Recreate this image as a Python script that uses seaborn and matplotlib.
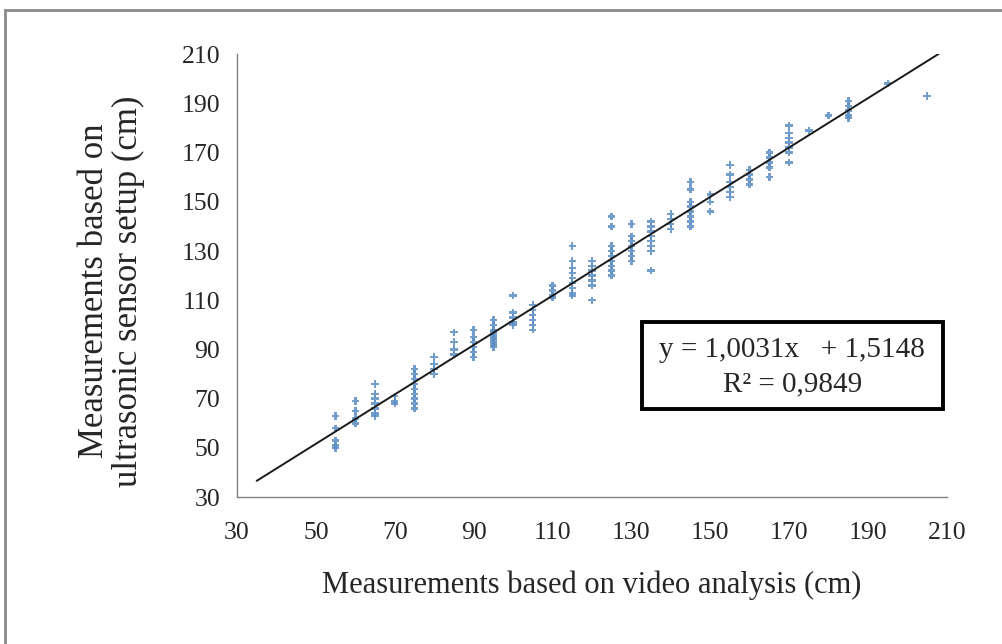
import numpy as np
import pandas as pd
import matplotlib
matplotlib.use("Agg")
import matplotlib.pyplot as plt
from matplotlib.patches import Rectangle
import seaborn as sns

# ---- data ----
x_video = [55]*5 + [60]*4 + [65]*7 + [70]*3 + [75]*9 + [80]*4 + [85]*4 + [90]*6 + \
          [95]*10 + [100]*5 + [105]*6 + [110]*4 + [115]*9 + [120]*7 + [125]*9 + \
          [130]*7 + [135]*8 + [140]*4 + [145]*8 + [150]*3 + [155]*6 + [160]*4 + \
          [165]*5 + [170]*7 + [175]*1 + [180]*1 + [185]*5 + [195]*1 + [205]*1
y_ultra = [63, 58, 53, 51, 50,
           69, 65, 62, 60,
           76, 72, 70, 68, 66, 64, 63,
           71, 69, 68,
           82, 80, 78, 76, 74, 72, 70, 68, 66,
           87, 84, 82, 80,
           97, 93, 90, 88,
           98, 95, 93, 91, 89, 87,
           102, 100, 98, 97, 96, 95, 94, 93, 92, 91,
           112, 105, 103, 101, 100,
           108, 106, 104, 102, 100, 98,
           116, 114, 112, 111,
           132, 126, 123, 121, 119, 117, 115, 113, 112,
           126, 124, 122, 120, 118, 116, 110,
           144, 140, 132, 130, 128, 126, 124, 122, 120,
           141, 136, 134, 132, 130, 128, 126,
           142, 140, 138, 136, 134, 132, 130, 122,
           145, 143, 141, 139,
           158, 155, 150, 148, 146, 144, 142, 140,
           153, 150, 146,
           165, 161, 158, 156, 154, 152,
           163, 161, 159, 157,
           170, 168, 166, 164, 160,
           181, 178, 176, 174, 172, 170, 166,
           179,
           185,
           191, 189, 187, 185, 184,
           198,
           193]
trend_slope = 1.0031
trend_intercept = 1.5148
trend_x_range = [35, 208]
ticks = [30, 50, 70, 90, 110, 130, 150, 170, 190, 210]
equation_text = "y = 1,0031x   + 1,5148\nR² = 0,9849"
x_label = "Measurements based on video analysis (cm)"
y_label = "Measurements based on\nultrasonic sensor setup (cm)"

df = pd.DataFrame({"video": x_video, "ultra": y_ultra})
tx = np.array(trend_x_range, dtype=float)
trend = pd.DataFrame({"video": tx, "ultra": trend_slope * tx + trend_intercept})

sns.set_style("white")
plt.rcParams["font.family"] = ["Liberation Serif", "DejaVu Serif"]

fig = plt.figure(figsize=(10.02, 6.44), dpi=100)
ax = fig.add_axes([0.2365, 0.228, 0.945 - 0.2365, 0.916 - 0.228])

sns.scatterplot(data=df, x="video", y="ultra", ax=ax, marker="P", s=28,
                color="#5b8dc4", edgecolor="none", alpha=0.85, zorder=2)
sns.lineplot(data=trend, x="video", y="ultra", ax=ax, color="#1a1a1a",
             linewidth=1.4, zorder=3)

ax.set_xlim(30, 210)
ax.set_ylim(30, 210)
ax.set_xticks(ticks)
ax.set_yticks(ticks)
ax.tick_params(axis="both", direction="out", length=6, width=1,
               color="#808080", labelsize=18.5)
ax.tick_params(axis="x", pad=12)
ax.tick_params(axis="y", pad=6)
for side in ["top", "right"]:
    ax.spines[side].set_visible(False)
for side in ["left", "bottom"]:
    ax.spines[side].set_color("#808080")
    ax.spines[side].set_linewidth(1)

ax.set_xlabel(x_label, fontsize=22, labelpad=19)
ax.set_ylabel(y_label, fontsize=25, linespacing=1.05)
ax.yaxis.set_label_coords(-0.129, 0.465)

# equation box
ax.add_patch(Rectangle((0.570, 0.199), 0.994 - 0.570, 0.395 - 0.199,
                       transform=ax.transAxes, facecolor="white",
                       edgecolor="black", linewidth=2.8, zorder=4,
                       clip_on=False))
ax.text(0.782, 0.294, equation_text, transform=ax.transAxes, ha="center",
        va="center", fontsize=21, linespacing=1.42, zorder=5)

fig.patches.append(Rectangle((0.005, -0.1), 1.2, 0.1 + 0.984,
                             transform=fig.transFigure, fill=False,
                             edgecolor="#8a8a8a", linewidth=2))

fig.savefig("out.png", dpi=100, facecolor="white")
